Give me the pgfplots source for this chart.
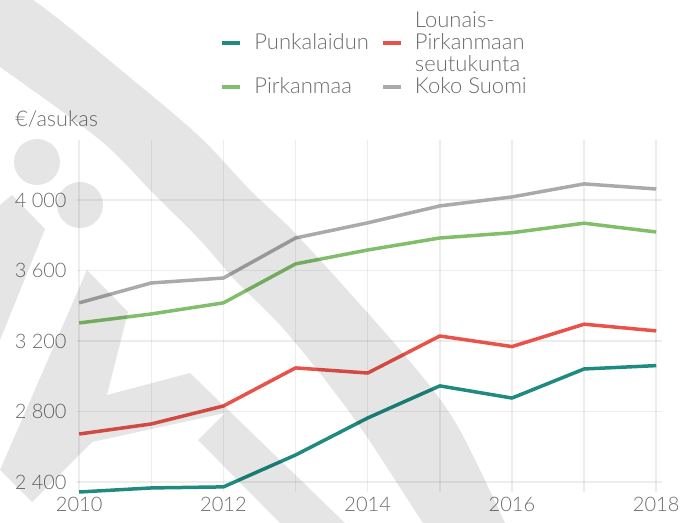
\documentclass[border=0pt]{standalone}
\usepackage{fontspec}
\setmainfont{Lato}[UprightFont={* Light}]
\usepackage{pgfplots}
\pgfplotsset{compat=1.18}
\definecolor{cteal}{RGB}{30,138,128}
\definecolor{cred}{RGB}{232,82,74}
\definecolor{cgreen}{RGB}{128,190,106}
\definecolor{cgray}{RGB}{170,170,170}
\definecolor{txt}{RGB}{108,108,108}

\begin{document}
\begin{tikzpicture}
\useasboundingbox (0,0) rectangle (348pt,-261.5pt);

% unit label, pixel coords (y down)
\begin{scope}[x=0.5pt,y=-0.5pt]
\node[anchor=base west, inner sep=0pt, text=txt, font=\fontsize{10.8}{12}\selectfont] at (15,127) {€/asukas};
\end{scope}

\begin{axis}[
    at={(38.5pt,-246pt)}, anchor=south west,
    width=292.5pt, height=176pt, scale only axis,
    xmin=2009.97, xmax=2018.08,
    ymin=2343, ymax=4340,
    clip=false,
    axis line style={draw=none},
    tick style={draw=none},
    major tick length=0pt,
    xtick={2010,...,2018},
    xticklabels={2010,,2012,,2014,,2016,,2018},
    ytick={2400,2800,3200,3600,4000},
    grid=major,
    grid style={black, opacity=0.07, line width=0.75pt},
    tick label style={font=\fontsize{10}{12}\selectfont, text=txt},
    yticklabel style={anchor=east, inner sep=0pt, xshift=-5pt},
    xticklabel style={anchor=north, inner sep=0pt, yshift=-2.5pt},
    /pgf/number format/1000 sep={\ },
    /pgf/number format/assume math mode=true,
    no marks,
    every axis plot/.append style={line width=1.75pt, line join=round},
    legend columns=2,
    legend cell align=left,
    legend image code/.code={\draw[line width=2pt] (0pt,1.5pt) -- (9pt,1.5pt);},
    legend style={
        draw=none, fill=none,
        at={(axis description cs:0.2444,1.362)}, anchor=north west,
        inner sep=0pt, column sep=6pt, row sep=0pt,
        font=\fontsize{11}{12}\selectfont, text=txt,
        nodes={inner sep=0pt, text height=7.5pt, text depth=3.5pt},
    },
]

\addplot[cteal, forget plot] coordinates {
    (2010,2343) (2011,2366) (2012,2372) (2013,2553) (2014,2763)
    (2015,2945) (2016,2876) (2017,3041) (2018,3060)
};
\addplot[cred, forget plot] coordinates {
    (2010,2672) (2011,2729) (2012,2831) (2013,3047) (2014,3018)
    (2015,3228) (2016,3168) (2017,3295) (2018,3257)
};
\addplot[cgreen, forget plot] coordinates {
    (2010,3302) (2011,3353) (2012,3416) (2013,3637) (2014,3716)
    (2015,3784) (2016,3814) (2017,3868) (2018,3818)
};
\addplot[cgray, forget plot] coordinates {
    (2010,3416) (2011,3529) (2012,3557) (2013,3784) (2014,3870)
    (2015,3966) (2016,4017) (2017,4091) (2018,4062)
};

% legend, one text line per row so the long name wraps over three rows
\addlegendimage{empty legend}\addlegendentry{}
\addlegendimage{empty legend}\addlegendentry{Lounais-}
\addlegendimage{cteal}\addlegendentry{Punkalaidun}
\addlegendimage{cred}\addlegendentry{Pirkanmaan}
\addlegendimage{empty legend}\addlegendentry{}
\addlegendimage{empty legend}\addlegendentry{seutukunta}
\addlegendimage{cgreen}\addlegendentry{Pirkanmaa}
\addlegendimage{cgray}\addlegendentry{Koko Suomi}

\end{axis}

% watermark drawn over everything, translucent
\begin{scope}[x=0.5pt,y=-0.5pt]
\clip (0,0) rectangle (696,523);
\fill[black, fill opacity=0.1]
    plot[smooth] coordinates {(-20,-20) (33,0) (133,80) (200,137) (250,190) (290,228)
        (340,282) (413,365) (457,425) (505,523) (520,560)}
    -- plot[smooth] coordinates {(450,560) (423,523) (367,437) (323,377) (280,325)
        (235,280) (200,240) (152,192) (100,140) (0,67) (-20,55)}
    -- cycle;
\fill[black, fill opacity=0.1] (37,162) circle (23);
\fill[black, fill opacity=0.1] (80,205) circle (23);
\fill[black, fill opacity=0.1] (0,205) -- (12,195) -- (45,229) -- (0,340) -- cycle;
\fill[black, fill opacity=0.1] (87,270) -- (128,312) -- (107,395) -- (190,373)
    -- (345,523) -- (280,523) -- (198,440) -- (225,413) -- (92,442)
    -- (32,502) -- (0,470) -- cycle;
\end{scope}
\end{tikzpicture}
\end{document}
